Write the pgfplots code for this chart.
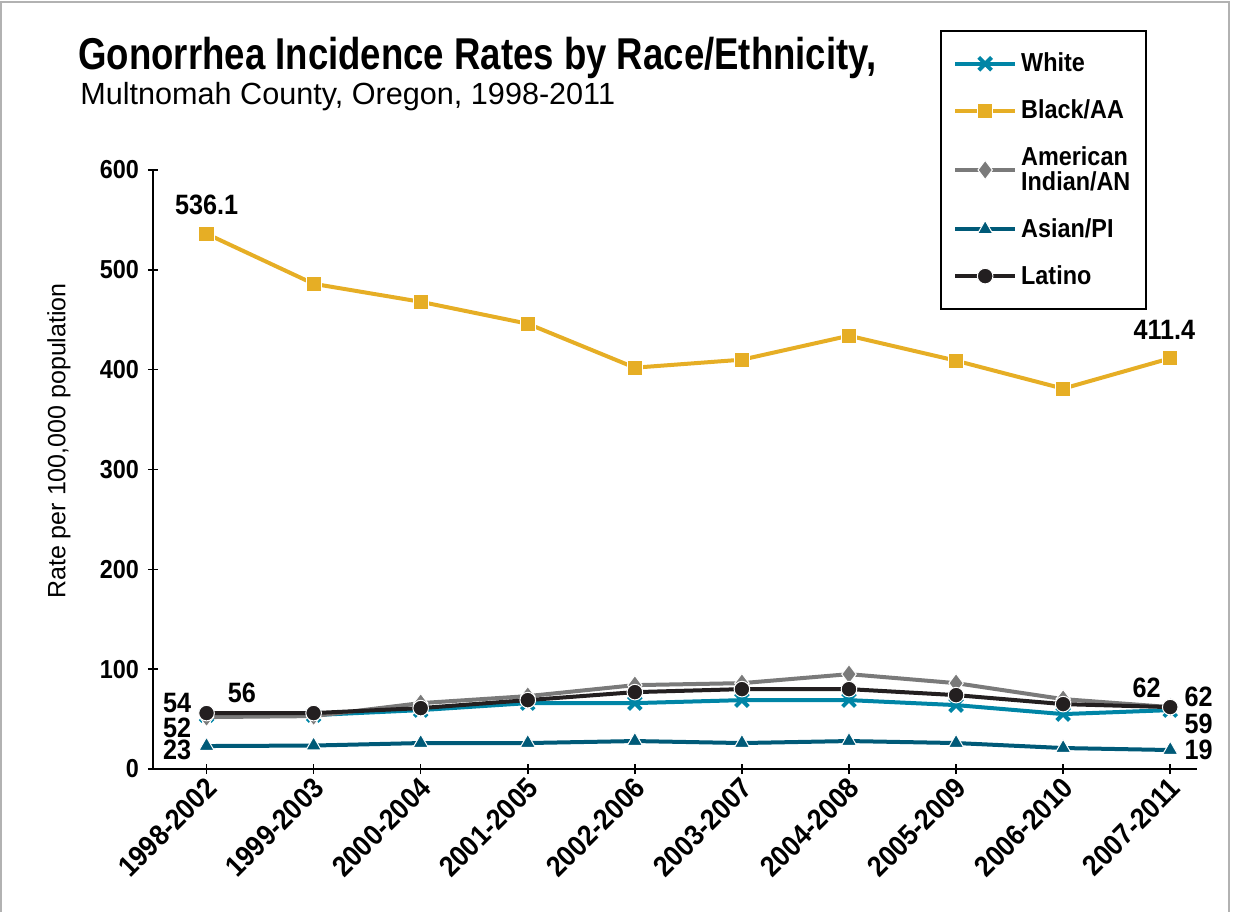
\documentclass[border=0pt]{standalone}
\usepackage{fontspec}
\setmainfont{Liberation Sans}
\newfontfamily\titlefont{Liberation Sans}[FakeStretch=0.82]
\newfontfamily\condfont{Liberation Sans}[FakeStretch=0.9]
\usepackage{pgfplots}
\pgfplotsset{compat=1.18}
\definecolor{cWhite}{HTML}{0085A6}
\definecolor{cBlack}{HTML}{E6AE25}
\definecolor{cAI}{HTML}{7A7A7A}
\definecolor{cAsian}{HTML}{005A78}
\definecolor{cLatino}{HTML}{231F20}
\begin{document}
\begin{tikzpicture}
\path[use as bounding box] (0pt,0pt) rectangle (619.5pt,456pt);
\draw[black!30, line width=1pt] (0.5pt,0pt) -- (0.5pt,455pt) -- (614.5pt,455pt) -- (614.5pt,0pt);
\node[anchor=base west, inner sep=0pt, font=\titlefont\bfseries\fontsize{22.3}{26}\selectfont] at (39pt,421pt) {Gonorrhea Incidence Rates by Race/Ethnicity,};
\node[anchor=base west, inner sep=0pt, font=\fontsize{15.3}{18}\selectfont] at (40pt,403.5pt) {Multnomah County, Oregon, 1998-2011};
\node[rotate=90, inner sep=0pt, font=\fontsize{12.5}{15}\selectfont] at (29.5pt,235.5pt) {Rate per 100,000 population};
\begin{axis}[
  at={(76.5pt,71.5pt)}, anchor=south west,
  scale only axis, width=522pt, height=299.5pt,
  xmin=-0.5, xmax=9.25, ymin=0, ymax=600,
  axis lines=left, axis line style={-, line width=1pt},
  clip=false,
  xtick={0,...,9},
  xticklabels={1998-2002,1999-2003,2000-2004,2001-2005,2002-2006,2003-2007,2004-2008,2005-2009,2006-2010,2007-2011},
  ytick={0,100,...,600},
  tick align=center, major tick length=5pt,
  tick style={black, line width=0.8pt},
  /pgf/number format/assume math mode=true,
  yticklabel style={font=\condfont\bfseries\fontsize{13}{14}\selectfont, xshift=-1pt},
  xticklabel style={font=\condfont\bfseries\fontsize{14.5}{16}\selectfont, rotate=45, anchor=east, xshift=2pt, yshift=-5pt},
  legend style={at={(0.754,1.234)}, anchor=north west, draw=black, line width=1pt,
    font=\condfont\bfseries\fontsize{13}{12.5}\selectfont, cells={align=left, anchor=west},
    inner xsep=6pt, inner ysep=9pt, row sep=8.5pt},
  legend image code/.code={\draw[mark repeat=2,mark phase=2,#1] plot coordinates {(0pt,0pt)(15pt,0pt)(30pt,0pt)};},
  every axis plot/.append style={line width=2pt},
]
\addplot[color=cWhite, mark=x, mark size=4.5pt, mark options={line width=2pt}] coordinates {(0,54)(1,54)(2,59)(3,66)(4,66)(5,69)(6,69)(7,64)(8,55)(9,59)};
\addlegendentry{White}
\addplot[color=cBlack, mark=square*, mark size=3.8pt, mark options={fill=cBlack, draw=white, line width=0.5pt}] coordinates {(0,536.1)(1,486)(2,468)(3,446)(4,402)(5,410)(6,434)(7,409)(8,381)(9,411.4)};
\addlegendentry{Black/AA}
\addplot[color=cAI, mark=diamond*, mark size=4.8pt, mark options={fill=cAI, draw=white, line width=0.5pt}] coordinates {(0,52)(1,53)(2,66)(3,73)(4,84)(5,86)(6,95)(7,86)(8,70)(9,62)};
\addlegendentry{American\\Indian/AN}
\addplot[color=cAsian, mark=triangle*, mark size=4.4pt, mark options={fill=cAsian, draw=white, line width=0.5pt}] coordinates {(0,23)(1,23.5)(2,26)(3,26)(4,28)(5,26)(6,28)(7,26)(8,21)(9,19)};
\addlegendentry{Asian/PI}
\addplot[color=cLatino, mark=*, mark size=3.9pt, mark options={fill=cLatino, draw=white, line width=0.5pt}] coordinates {(0,56)(1,56)(2,61)(3,69)(4,77)(5,80)(6,80)(7,74)(8,65)(9,62)};
\addlegendentry{Latino}
\begin{scope}[every node/.style={font=\condfont\bfseries\fontsize{14}{15}\selectfont, inner sep=0pt}]
\node at (axis cs:0,565) {536.1};
\node at (axis cs:8.945,440) {411.4};
\node[anchor=east] at (axis cs:-0.14,66) {54};
\node[anchor=east] at (axis cs:-0.14,41) {52};
\node[anchor=east] at (axis cs:-0.14,19) {23};
\node at (axis cs:0.33,76) {56};
\node at (axis cs:8.78,81) {62};
\node[anchor=west] at (axis cs:9.13,72) {62};
\node[anchor=west] at (axis cs:9.13,45) {59};
\node[anchor=west] at (axis cs:9.13,19) {19};
\end{scope}
\end{axis}
\end{tikzpicture}
\end{document}
